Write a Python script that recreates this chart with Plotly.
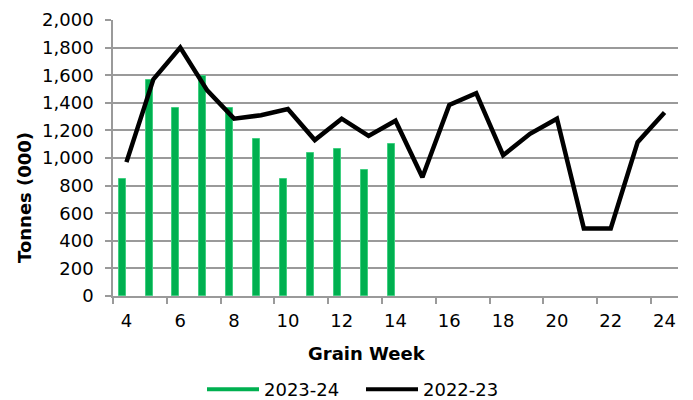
import plotly.graph_objects as go

weeks_2324 = [4, 5, 6, 7, 8, 9, 10, 11, 12, 13, 14]
vals_2324 = [850, 1565, 1365, 1595, 1365, 1135, 850, 1035, 1065, 910, 1105]

weeks_2223 = [4, 5, 6, 7, 8, 9, 10, 11, 12, 13, 14, 15, 16, 17, 18, 19, 20, 21, 22, 23, 24]
vals_2223 = [970, 1570, 1800, 1490, 1285, 1310, 1355, 1130, 1285, 1160, 1270,
             860, 1385, 1470, 1020, 1175, 1285, 490, 490, 1115, 1330]

x_tick_vals = [4, 6, 8, 10, 12, 14, 16, 18, 20, 22, 24]
x_tick_text = [str(v) for v in x_tick_vals]
x_boundary_ticks = [3.5, 5.5, 7.5, 9.5, 11.5, 13.5, 15.5, 17.5, 19.5, 21.5, 23.5]

GREEN = "#00B050"
GRID = "#9a9a9a"
FONT = "DejaVu Sans"

fig = go.Figure()
fig.add_trace(go.Bar(
    x=weeks_2324, y=vals_2324, width=0.26, offset=-0.29,
    marker=dict(color=GREEN, line=dict(color="#3fcf80", width=1)),
    showlegend=False, name="2023-24",
))
fig.add_trace(go.Scatter(
    x=weeks_2223, y=vals_2223, mode="lines",
    line=dict(color="black", width=4.5),
    showlegend=False, name="2022-23",
))
# legend entries
fig.add_trace(go.Scatter(x=[None], y=[None], mode="lines", name="2023-24",
                         line=dict(color=GREEN, width=4)))
fig.add_trace(go.Scatter(x=[None], y=[None], mode="lines", name="2022-23",
                         line=dict(color="black", width=4)))

fig.update_layout(
    width=693, height=400,
    margin=dict(l=113, r=15, t=20, b=104, autoexpand=False),
    paper_bgcolor="white", plot_bgcolor="white",
    font=dict(family=FONT, size=18, color="black"),
    showlegend=True,
    legend=dict(orientation="h", xref="container", yref="container",
                x=202 / 693, xanchor="left", y=29 / 400, yanchor="top",
                font=dict(size=18), itemwidth=52, entrywidth=92,
                entrywidthmode="pixels"),
    bargap=0,
)
fig.update_xaxes(
    range=[3.5, 24.5], tickmode="array", tickvals=x_tick_vals, ticktext=x_tick_text,
    ticks="", showgrid=False, zeroline=False, automargin=False,
    showline=True, linecolor=GRID, linewidth=1.5,
    ticklabelstandoff=8,
    minor=dict(tickmode="array", tickvals=x_boundary_ticks, ticks="outside",
               ticklen=6, tickcolor=GRID, tickwidth=1.5, showgrid=False),
    tickfont=dict(size=18),
)
fig.update_yaxes(
    range=[0, 2000], dtick=200, tickformat=",", showgrid=True, gridcolor=GRID,
    gridwidth=1.5, zeroline=False, showline=True, linecolor=GRID, linewidth=1.5,
    ticks="outside", ticklen=6, tickcolor=GRID, tickwidth=1.5, automargin=False,
    ticklabelstandoff=8, tickfont=dict(size=18),
)
fig.add_annotation(text="<b>Tonnes (000)</b>", xref="paper", yref="paper",
                   x=(24 - 113) / 565, y=(296 - 198) / 276, textangle=-90,
                   showarrow=False, font=dict(size=18), xanchor="center", yanchor="middle")
fig.add_annotation(text="<b>Grain Week</b>", xref="paper", yref="paper",
                   x=(367 - 113) / 565, y=-(353 - 296) / 276,
                   showarrow=False, font=dict(size=18), xanchor="center", yanchor="middle")

fig.write_html("out.html", config={"displayModeBar": False},
               post_script="document.body.style.margin='0';")
